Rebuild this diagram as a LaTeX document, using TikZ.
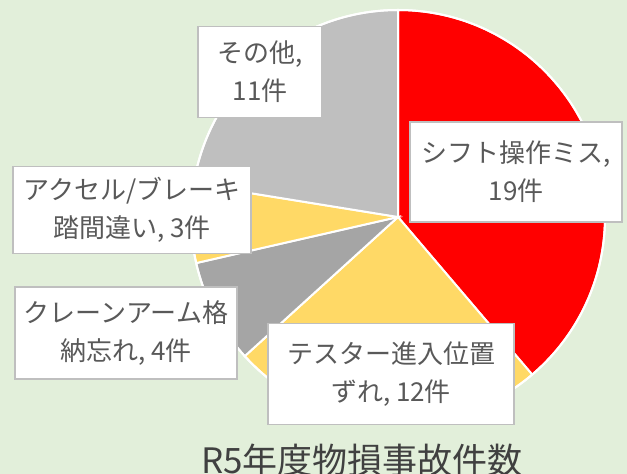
\documentclass[tikz,border=0pt]{standalone}
\usepackage{fontspec}
\setmainfont{Noto Sans CJK JP}
\definecolor{bggreen}{HTML}{E2EFDA}
\definecolor{pieyellow}{HTML}{FFD966}
\definecolor{piegray}{HTML}{A5A5A5}
\definecolor{pielight}{HTML}{BFBFBF}
\definecolor{boxline}{HTML}{BFBFBF}
\definecolor{labtext}{HTML}{595959}
\definecolor{titletext}{HTML}{404040}

\begin{document}
\begin{tikzpicture}[x=1pt,y=1pt,slice/.style={draw=white,line width=2pt},label box/.style={draw=boxline,fill=white,line width=1.5pt,align=center,text=labtext,inner sep=0pt,font=\fontsize{26}{38}\selectfont}]
            \fill[bggreen] (0,0) rectangle (627,474);
            \useasboundingbox (0,0) rectangle (627,474);
            \coordinate (c) at (398,257);

            % slices, clockwise from the top
            \foreach \from/\to/\col in {90/-49.59/red,-49.59/-137.76/pieyellow,-137.76/-167.14/piegray,-167.14/-189.18/pieyellow,-189.18/-270/pielight}
                \draw[slice,fill=\col] (c) -- ++(\from:207) arc (\from:\to:207) -- cycle;
            \draw[white,line width=2pt] (c) circle (207);

            \node[label box,minimum width=124,minimum height=91] (other) at (260,402) {その他,\\11件};
            \node[label box,minimum width=212,minimum height=100] (shift) at (516,302) {シフト操作ミス,\\19件};
            \node[label box,minimum width=246,minimum height=101] (tester) at (391,100) {テスター進入位置\\ずれ, 12件};
            \node[label box,minimum width=238,minimum height=87] (pedal) at (132,264) {アクセル/ブレーキ\\踏間違い, 3件};
            \node[label box,minimum width=222,minimum height=92] (crane) at (126,141) {クレーンアーム格\\納忘れ, 4件};

            \node[text=titletext,font=\fontsize{35}{40}\selectfont,anchor=north] (title) at (362,34) {R5年度物損事故件数};
        \end{tikzpicture}
\end{document}
